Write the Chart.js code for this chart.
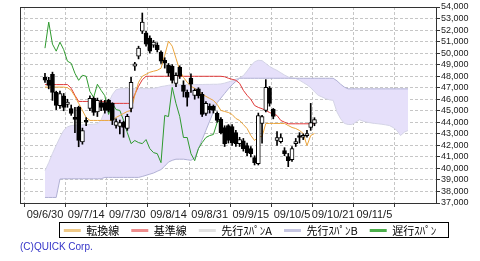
<!DOCTYPE html>
<html>
<head>
<meta charset="utf-8">
<script src="https://cdn.jsdelivr.net/npm/chart.js@4/dist/chart.umd.min.js"></script>
<style>
  html, body { margin: 0; padding: 0; background: #fff; }
</style>
</head>
<body>
<canvas id="ichimoku" width="480" height="261"></canvas>
<script>
// x axis: trading day index, day 0 = 09/6/30
const tickDays = [0, 11, 22, 33, 44, 55, 66, 77, 88];
const tickLabels = ['09/6/30', '09/7/14', '09/7/30', '09/8/14', '09/8/31', '09/9/15', '09/10/5', '09/10/21', '09/11/5'];

const candleOpen = [47900, 47640, 48160, 46600, 45450, 46300, 45550, 45200, 44400, 45290,
  42300, 44160, 45200, 46070, 44900, 45700, 45700, 45900, 45640, 43720,
  43640, 44000, 43460, 45200, 48860, 49730, 51910, 51740, 51300, 50690,
  50700, 50080, 49380, 48950, 48860, 47380, 48770, 47210, 46600, 47820,
  46330, 46900, 46420, 44770, 45400, 45380, 44770, 44250, 43550, 43720,
  43630, 43110, 42150, 42400, 41980, 41720, 40940, 40410, 43900, 45030,
  46940, 45120, 42420, 42330, 41540, 41020, 40760, 42150, 42760, 42700,
  42850, 43550, 43900];
const candleHigh = [48250, 47900, 48350, 46700, 46700, 46500, 46000, 45500, 45290, 45400,
  43500, 44400, 46300, 46200, 46100, 45900, 45900, 46000, 45700, 44300,
  44200, 44100, 44700, 47900, 49200, 50600, 53480, 51900, 51500, 51100,
  50900, 50200, 49600, 49100, 49000, 48300, 48900, 47600, 46800, 48200,
  46900, 47000, 46600, 45800, 45600, 45500, 44900, 44400, 43700, 43800,
  43800, 43300, 42700, 42600, 42200, 41900, 41100, 44800, 44600, 47700,
  47100, 45200, 43200, 43000, 41800, 41300, 41900, 42600, 43100, 43000,
  43300, 45640, 44400];
const candleLow = [47450, 46900, 45900, 45100, 45200, 45000, 45300, 44600, 43100, 41880,
  42100, 43700, 45000, 44600, 44500, 45000, 44800, 44900, 43800, 43500,
  43000, 42700, 43300, 44900, 48500, 49500, 51700, 50600, 50000, 50500,
  50100, 49100, 48700, 48000, 47400, 47100, 47800, 46200, 45400, 46600,
  46000, 46100, 44500, 44600, 44800, 44800, 44000, 43000, 41900, 42200,
  42000, 41900, 41900, 41500, 41100, 41000, 40300, 40300, 42200, 44900,
  45400, 44300, 42000, 42200, 41100, 40150, 40600, 41900, 42200, 42500,
  42700, 43300, 43700];
const candleClose = [47650, 47200, 46600, 45460, 46500, 45300, 45750, 44770, 44250, 42420,
  43290, 44000, 46070, 44860, 45900, 45290, 45030, 45030, 44160, 44070,
  43980, 43560, 44510, 47470, 49070, 50430, 52690, 50780, 50170, 50950,
  50300, 49300, 49120, 48250, 47640, 48080, 47990, 46680, 46160, 47300,
  46770, 46300, 44680, 45640, 45100, 45030, 44160, 43110, 42150, 42420,
  42240, 42150, 42500, 41720, 41370, 41280, 40500, 44590, 44500, 47030,
  45640, 44510, 42680, 42680, 41280, 40670, 41720, 42240, 42680, 42850,
  42940, 43980, 44240];

const tenkan = [47050, 47050, 47050, 47050, 47050, 47050, 47000, 46770, 46250, 45640,
  45030, 44420, 44160, 44160, 44160, 44160, 44160, 44160, 44160, 44420,
  44590, 44770, 44940, 45030, 46340, 47470, 47990, 48160, 48340, 48430,
  48510, 48690, 49820, 51040, 50600, 49560, 48510, 47900, 47470, 47120,
  46950, 46680, 46420, 46250, 46070, 45900, 45550, 45030, 44940, 44850,
  44680, 44330, 44160, 43810, 43460, 42850, 42420, 42760, 42760, 43900,
  43900, 43900, 43900, 43900, 43900, 43720, 43550, 43460, 43290, 43030,
  41980, 42850, 43030];
const kijun = [47270, 47270, 47270, 47270, 47270, 47270, 47270, 46950, 46340, 45810,
  45810, 45810, 45810, 45810, 45810, 45810, 45810, 45640, 45640, 45640,
  45640, 45640, 45640, 45640, 46420, 47120, 47690, 47990, 47990, 47990,
  47990, 47990, 47990, 47990, 47990, 47990, 47990, 47990, 47990, 47990,
  47990, 47990, 47990, 47990, 47990, 47990, 47990, 47990, 47950, 47820,
  47730, 47640, 47380, 46770, 46340, 45990, 45460, 45290, 45180, 45030,
  44850, 44720, 44590, 44160, 44010, 43870, 43870, 43870, 43870, 43870,
  43870, 43870, 43870];
const chikou = [50430, 52690, 50780, 50170, 50950, 50300, 49300, 49120, 48250, 47640,
  48080, 47990, 46680, 46160, 47300, 46770, 46300, 44680, 45640, 45100,
  45030, 44160, 43110, 42150, 42420, 42240, 42150, 42500, 41720, 41370,
  41280, 40500, 44590, 44500, 47030, 45640, 44510, 42680, 42680, 41280,
  40670, 41720, 42240, 42680, 42850, 42940, 43980, 44240];
const spanA = [39800, 40500, 41300, 42000, 42700, 43300, 43600, 43720, 43750, 43760,
  43780, 43800, 43820, 43840, 43860, 44200, 45000, 45700, 46400, 46830,
  46900, 46920, 46920, 46920, 46920, 46920, 46920, 46920, 46920, 46950,
  47000, 47100, 47150, 47210, 47250, 47250, 47250, 47260, 47260, 47270,
  47270, 47280, 47280, 47290, 47290, 47300, 47300, 47330, 47400, 47500,
  47600, 47750, 47850, 48050, 48450, 48900, 49250, 49380, 49350, 49100,
  48850, 48660, 48500, 48300, 48100, 47930, 47850, 47800, 47650, 47450,
  47250, 47000, 46650, 46340, 46200, 46050, 45950, 45900, 44900, 44300,
  43900, 43810, 43810, 44000, 44220, 44100, 44010, 43950, 43900, 43870,
  43830, 43780, 43720, 43550, 43300, 42850, 43140, 43290];
const spanB = [37480, 37480, 37480, 37480, 39080, 39100, 39100, 39100, 39100, 39100,
  39100, 39100, 39100, 39100, 39100, 39100, 39220, 39220, 39220, 39220,
  39220, 39220, 39220, 39220, 39220, 39220, 39300, 39400, 39500, 39600,
  39750, 39900, 40200, 40550, 40700, 40800, 40800, 40800, 40750, 40700,
  40900, 41700, 42500, 43300, 44100, 44900, 45700, 46100, 46500, 46900,
  47250, 47550, 47820, 47820, 47820, 47820, 47820, 47820, 47820, 47820,
  47820, 47820, 47820, 47820, 47820, 47820, 47820, 47820, 47820, 47820,
  47820, 47820, 47820, 47820, 47820, 47820, 47820, 47820, 47600, 47300,
  47050, 46900, 46900, 46900, 46900, 46900, 46900, 46900, 46900, 46900,
  46900, 46900, 46900, 46900, 46900, 46900, 46900, 46900];

const seriesNames = ['転換線', '基準線', '先行ｽﾊﾟﾝA', '先行ｽﾊﾟﾝB', '遅行ｽﾊﾟﾝ'];

const TEXT_FONT = "'Liberation Sans', Arial, sans-serif";
const JP_FONT = "'Noto Sans CJK JP', 'Noto Sans', sans-serif";
const tenkanColor = '#eaa43c';
const kijunColor = '#e03838';
const spanAColor = '#d4d4e6';
const spanBColor = '#b0b0d4';
const chikouColor = '#2f9a2f';
const cloudFill = '#e6e0fa';
const gridColor = '#c6c6c6';
const swatchColors = ['#efc987', '#ee8d8d', '#e2e2e2', '#c6c6e2', '#4caf4c'];

const pts = arr => arr.map((v, i) => ({ x: i, y: v }));

const bodies = candleOpen.map((o, i) => ({ x: i, y: [o, candleClose[i]] }));
const wicks = candleLow.map((l, i) => ({ x: i, y: [l, candleHigh[i]] }));
const bodyColors = candleOpen.map((o, i) => candleClose[i] >= o ? '#ffffff' : '#000000');

const plotFrame = {
  id: 'plotFrame',
  afterDatasetsDraw(chart) {
    const { ctx, chartArea: a } = chart;
    ctx.save();
    ctx.strokeStyle = '#333';
    ctx.lineWidth = 1;
    ctx.strokeRect(a.left + 0.5, a.top + 0.5, a.right - a.left, a.bottom - a.top);
    ctx.restore();
  }
};

// the legend sits tight under the date labels, so pull its box up a little
const legendLift = {
  id: 'legendLift',
  afterLayout(chart) {
    const lg = chart.legend;
    if (!lg) return;
    lg.top -= 10;
    lg.height += 10;
  }
};

const legendFrame = {
  id: 'legendFrame',
  afterDraw(chart) {
    const boxes = chart.legend && chart.legend.legendHitBoxes;
    if (!boxes || !boxes.length) return;
    const first = boxes[0];
    const last = boxes[boxes.length - 1];
    const x0 = Math.round(first.left) - 4.5;
    const x1 = Math.round(last.left + last.width) + 12.5;
    const y0 = Math.round(first.top) - 2.5;
    const y1 = Math.round(first.top + first.height) + 1.5;
    const ctx = chart.ctx;
    ctx.save();
    ctx.strokeStyle = '#000';
    ctx.lineWidth = 1;
    ctx.strokeRect(x0, y0, x1 - x0, y1 - y0);
    ctx.restore();
  }
};

new Chart(document.getElementById('ichimoku'), {
  type: 'bar',
  data: {
    datasets: [
      { type: 'line', label: seriesNames[2], data: pts(spanA), borderColor: spanAColor, borderWidth: 1,
        pointRadius: 0, fill: { target: 1, above: cloudFill, below: cloudFill }, order: 4 },
      { type: 'line', label: seriesNames[3], data: pts(spanB), borderColor: spanBColor, borderWidth: 1,
        pointRadius: 0, fill: false, order: 3 },
      { type: 'line', label: seriesNames[0], data: pts(tenkan), borderColor: tenkanColor, borderWidth: 1,
        pointRadius: 0, fill: false, order: 2 },
      { type: 'line', label: seriesNames[1], data: pts(kijun), borderColor: kijunColor, borderWidth: 1,
        pointRadius: 0, fill: false, order: 2 },
      { type: 'line', label: seriesNames[4], data: pts(chikou), borderColor: chikouColor, borderWidth: 1,
        pointRadius: 0, fill: false, order: 2 },
      { label: 'wick', data: wicks, backgroundColor: '#000', borderWidth: 0,
        barThickness: 1, grouped: false, order: 1 },
      { label: 'body', data: bodies, backgroundColor: bodyColors, borderColor: '#000', borderWidth: 1,
        borderSkipped: false, barThickness: 4, minBarLength: 2, grouped: false, order: 0 }
    ]
  },
  options: {
    responsive: false,
    animation: false,
    layout: { padding: { left: 20, right: 0, top: 7, bottom: 0 } },
    scales: {
      x: {
        type: 'linear',
        min: -0.5,
        max: 98.3,
        afterBuildTicks: s => { s.ticks = tickDays.map(v => ({ value: v })); },
        afterFit: s => { s.height = 20; },
        ticks: {
          autoSkip: false, maxRotation: 0, minRotation: 0, padding: 1,
          color: '#222', font: { size: 11, family: TEXT_FONT },
          callback: v => { const k = tickDays.indexOf(v); return k >= 0 ? tickLabels[k] : ''; }
        },
        grid: { color: gridColor, tickColor: '#333', tickLength: 4, tickBorderDash: [] },
        border: { display: false, dash: [3, 2] }
      },
      y: {
        position: 'right',
        min: 37000,
        max: 54000,
        afterFit: s => { s.width = 44; },
        ticks: {
          stepSize: 1000, autoSkip: false, padding: 1,
          color: '#222', font: { size: 9, family: TEXT_FONT },
          callback: v => v.toLocaleString('en-US')
        },
        grid: { color: gridColor, tickColor: '#333', tickLength: 4, tickBorderDash: [] },
        border: { display: false, dash: [3, 2] }
      }
    },
    plugins: {
      tooltip: { enabled: false },
      legend: {
        position: 'bottom',
        maxHeight: 15,
        labels: {
          boxWidth: 17, boxHeight: 3, padding: 12,
          color: '#000', font: { size: 11, family: JP_FONT },
          generateLabels: () => seriesNames.map((name, k) => ({
            text: name, fillStyle: swatchColors[k], strokeStyle: swatchColors[k],
            lineWidth: 0, hidden: false, fontColor: '#000'
          }))
        }
      },
      title: {
        display: true,
        text: '(C)QUICK Corp.',
        position: 'bottom',
        align: 'start',
        color: '#3434c8',
        font: { size: 10, family: TEXT_FONT, weight: 'normal' },
        padding: { top: 3, bottom: 8 }
      }
    }
  },
  plugins: [plotFrame, legendLift, legendFrame]
});
</script>
</body>
</html>
